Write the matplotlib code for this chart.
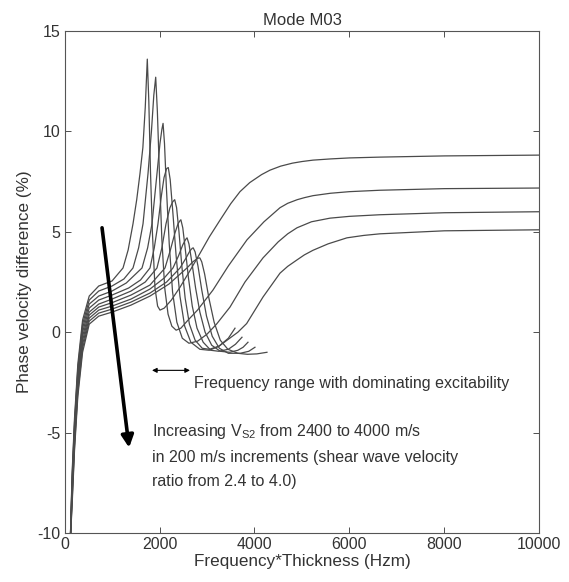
import matplotlib
matplotlib.use("Agg")
import matplotlib.pyplot as plt

plt.rcParams['font.family'] = ['Liberation Sans', 'DejaVu Sans']
plt.rcParams['mathtext.fontset'] = 'custom'
plt.rcParams['mathtext.rm'] = 'Liberation Sans'
plt.rcParams['mathtext.default'] = 'regular'
plt.rcParams['axes.unicode_minus'] = False

# phase velocity difference curves, Vs2 = 2400 ... 4000 m/s
fd_0 = [120, 160, 210, 280, 380, 520, 720, 1000, 1232, 1340, 1442, 1520, 1589, 1650, 1700, 1743,
        1775, 1810, 1850, 1905, 1960, 2010, 2100, 2250, 2432, 2650, 2853, 3050, 3274, 3500, 3695,
        3900, 4150, 4326, 4550, 4800, 5000, 5232, 5600, 6000, 6642, 8000, 10000]
dv_0 = [-10.5, -7, -4.3, -1.6, 0.6, 1.8, 2.3, 2.55, 3.2, 4.1, 5.4, 6.6, 7.9, 9.2, 11.2, 13.6,
        11.5, 8.0, 5.0, 2.2, 1.3, 1.1, 1.2, 1.6, 2.24, 3.1, 3.93, 4.75, 5.58, 6.4, 7.0,
        7.45, 7.85, 8.07, 8.27, 8.42, 8.5, 8.57, 8.63, 8.68, 8.72, 8.78, 8.82]

fd_1 = [120, 160, 210, 280, 380, 520, 720, 1000, 1250, 1442, 1560, 1653, 1758, 1830, 1880, 1920,
        1955, 2000, 2050, 2110, 2180, 2260, 2350, 2450, 2600, 2800, 3126, 3450, 3842, 4200, 4537,
        4700, 4900, 5050, 5232, 5600, 6000, 6642, 8000, 10000]
dv_1 = [-10.5, -7.2, -4.5, -1.8, 0.4, 1.6, 2.05, 2.3, 2.65, 3.2, 4.2, 5.4, 7.9, 10.0, 11.8, 12.7,
        11.0, 7.8, 4.6, 2.2, 0.9, 0.3, 0.1, 0.2, 0.6, 1.1, 2.1, 3.3, 4.6, 5.5, 6.2,
        6.42, 6.6, 6.7, 6.8, 6.92, 7.0, 7.07, 7.15, 7.18]

fd_2 = [120, 160, 210, 280, 380, 520, 720, 1000, 1300, 1632, 1750, 1842, 1947, 2010, 2050, 2075,
        2105, 2145, 2205, 2275, 2365, 2480, 2620, 2800, 3000, 3200, 3484, 3800, 4179, 4500, 4700,
        4895, 5200, 5590, 6000, 6642, 8000, 10000]
dv_2 = [-10.5, -7.4, -4.7, -2.0, 0.2, 1.4, 1.8, 2.05, 2.45, 3.2, 4.2, 5.4, 7.9, 9.4, 10.1, 10.4,
        9.4, 7.2, 4.4, 2.0, 0.5, -0.3, -0.55, -0.45, -0.1, 0.4, 1.25, 2.5, 3.7, 4.5, 4.9,
        5.2, 5.5, 5.68, 5.77, 5.85, 5.95, 6.0]

fd_3 = [120, 160, 210, 280, 380, 520, 720, 1000, 1350, 1600, 1800, 1890, 1968, 2040, 2095, 2150,
        2185, 2225, 2280, 2350, 2430, 2530, 2660, 2850, 3050, 3250, 3450, 3650, 3835, 4179, 4537,
        4700, 4895, 5050, 5232, 5550, 5947, 6300, 6642, 8000, 10000]
dv_3 = [-10.5, -7.6, -4.9, -2.2, 0.0, 1.2, 1.6, 1.85, 2.2, 2.6, 3.2, 4.2, 5.4, 6.8, 7.7, 8.15,
        8.2, 7.6, 6.0, 3.8, 1.8, 0.3, -0.5, -0.85, -0.9, -0.7, -0.35, 0.0, 0.43, 1.75, 2.94,
        3.28, 3.6, 3.85, 4.08, 4.4, 4.7, 4.82, 4.9, 5.05, 5.1]

fd_4 = [120, 160, 210, 280, 380, 520, 720, 1000, 1400, 1700, 1947, 2050, 2137, 2220, 2280, 2320,
        2360, 2410, 2470, 2540, 2630, 2750, 2900, 3050, 3250, 3450, 3590]
dv_4 = [-10.5, -7.8, -5.1, -2.4, -0.2, 1.0, 1.4, 1.65, 2.05, 2.5, 3.2, 4.2, 5.4, 6.2, 6.5, 6.6,
        6.2, 5.0, 3.3, 1.7, 0.4, -0.4, -0.8, -0.85, -0.7, -0.3, 0.2]

fd_5 = [120, 160, 210, 280, 380, 520, 720, 1000, 1400, 1800, 2116, 2230, 2320, 2390, 2430, 2450,
        2490, 2540, 2610, 2690, 2790, 2920, 3080, 3250, 3450, 3600, 3737]
dv_5 = [-10.5, -8.0, -5.3, -2.6, -0.4, 0.85, 1.25, 1.47, 1.85, 2.35, 3.2, 4.1, 4.9, 5.4, 5.55, 5.6,
        5.2, 4.2, 2.7, 1.3, 0.2, -0.5, -0.9, -0.95, -0.85, -0.6, -0.25]

fd_6 = [120, 160, 210, 280, 380, 520, 720, 1000, 1400, 1800, 2100, 2284, 2400, 2490, 2550, 2580,
        2620, 2680, 2760, 2850, 2960, 3100, 3280, 3480, 3650, 3760, 3863]
dv_6 = [-10.5, -8.2, -5.5, -2.8, -0.6, 0.7, 1.1, 1.3, 1.65, 2.15, 2.7, 3.2, 3.8, 4.35, 4.62, 4.7,
        4.4, 3.5, 2.2, 1.0, 0.0, -0.65, -0.95, -1.0, -0.9, -0.75, -0.5]

fd_7 = [120, 160, 210, 280, 380, 520, 720, 1000, 1400, 1800, 2150, 2432, 2560, 2640, 2690, 2710,
        2750, 2810, 2890, 2990, 3110, 3260, 3450, 3700, 3880, 4010]
dv_7 = [-10.5, -8.4, -5.7, -3.0, -0.8, 0.55, 0.95, 1.15, 1.5, 1.95, 2.5, 3.2, 3.7, 4.05, 4.18, 4.2,
        4.0, 3.3, 2.1, 0.8, -0.2, -0.8, -1.05, -1.05, -0.95, -0.75]

fd_8 = [120, 160, 210, 280, 380, 520, 720, 1000, 1400, 1800, 2200, 2579, 2700, 2790, 2830, 2850,
        2890, 2950, 3040, 3150, 3280, 3440, 3650, 3850, 4050, 4263]
dv_8 = [-10.5, -8.6, -5.9, -3.2, -1.0, 0.4, 0.8, 1.0, 1.35, 1.8, 2.4, 3.2, 3.5, 3.66, 3.7, 3.7,
        3.5, 2.9, 1.7, 0.5, -0.4, -0.85, -1.05, -1.1, -1.08, -1.0]

curves = [(fd_0, dv_0), (fd_1, dv_1), (fd_2, dv_2), (fd_3, dv_3), (fd_4, dv_4),
          (fd_5, dv_5), (fd_6, dv_6), (fd_7, dv_7), (fd_8, dv_8)]

fig = plt.figure(figsize=(5.69, 5.82), dpi=100)
ax = fig.add_axes([0.1134, 0.0842, 0.8346, 0.8625])

for fd, dv in curves:
    ax.plot(fd, dv, color='#4a4a4a', lw=0.9)

ax.set_xlim(0, 10000)
ax.set_ylim(-10, 15)
ax.set_xticks([0, 2000, 4000, 6000, 8000, 10000])
ax.set_yticks([-10, -5, 0, 5, 10, 15])
ax.tick_params(direction='in', top=True, right=True, length=4, width=0.6,
               labelsize=11.5, colors='#333333', pad=3)
for s in ax.spines.values():
    s.set_color('#555555')
    s.set_linewidth(0.8)

ax.set_title('Mode M03', fontsize=12, color='#333333', pad=4)
ax.set_xlabel('Frequency*Thickness (Hzm)', fontsize=12.3, color='#333333', labelpad=1)
ax.set_ylabel('Phase velocity difference (%)', fontsize=12.3, color='#333333', labelpad=4)

# frequency range arrow
ax.annotate('', xy=(1842, -1.9), xytext=(2642, -1.9),
            arrowprops=dict(arrowstyle='<|-|>', color='black', lw=0.8,
                            mutation_scale=7, shrinkA=0, shrinkB=0))
ax.text(2720, -2.55, 'Frequency range with dominating excitability',
        fontsize=11.5, color='#333333', va='center')

# thick trend arrow
ax.annotate('', xy=(1360, -5.75), xytext=(790, 5.2),
            arrowprops=dict(arrowstyle='-|>', color='black', lw=2.6,
                            mutation_scale=18, shrinkA=0, shrinkB=0))

ax.text(1842, -4.95, r'Increasing V$_{S2}$ from 2400 to 4000 m/s',
        fontsize=11.5, color='#333333', va='center')
ax.text(1842, -6.22, 'in 200 m/s increments (shear wave velocity',
        fontsize=11.5, color='#333333', va='center')
ax.text(1842, -7.45, 'ratio from 2.4 to 4.0)',
        fontsize=11.5, color='#333333', va='center')

fig.savefig('out.png', dpi=100)
